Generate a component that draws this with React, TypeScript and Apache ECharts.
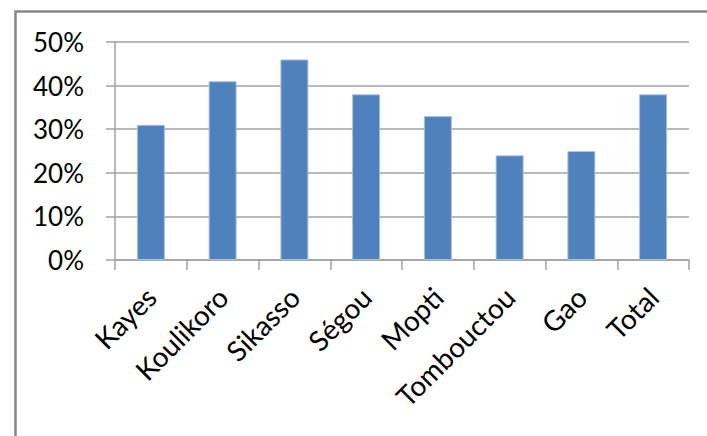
import React, { useEffect, useRef } from "react";
import * as echarts from "echarts";

// Regions of Mali and their share (in %)
const regions = ["Kayes", "Koulikoro", "Sikasso", "Ségou", "Mopti", "Tombouctou", "Gao", "Total"];
const shares = [31, 41, 46, 38, 33, 24, 25, 38];
const yTicks = [0, 10, 20, 30, 40, 50];

const FONT = "Lato, 'Liberation Sans', sans-serif";
const GRID_COLOR = "#a0a0a0";

export default function App() {
  const ref = useRef<HTMLDivElement>(null);

  useEffect(() => {
    if (!ref.current) return;
    const chart = echarts.init(ref.current, undefined, { renderer: "svg" });
    chart.setOption({
      animation: false,
      backgroundColor: "#ffffff",
      textStyle: { fontFamily: FONT },
      graphic: [
        {
          type: "rect",
          left: 13,
          top: 9,
          shape: { x: 0, y: 0, width: 760, height: 480 },
          style: { fill: "none", stroke: "#858585", lineWidth: 2.5 },
          silent: true,
        },
      ],
      grid: { left: 115, right: 18, top: 42, bottom: 176, containLabel: false },
      xAxis: {
        type: "category",
        data: regions,
        boundaryGap: true,
        axisLine: { show: true, lineStyle: { color: GRID_COLOR, width: 1.5 } },
        axisTick: { show: true, length: 10, alignWithLabel: false, lineStyle: { color: GRID_COLOR, width: 1.5 } },
        axisLabel: {
          rotate: 45,
          margin: 32,
          interval: 0,
          color: "#000000",
          fontSize: 28,
          fontFamily: FONT,
        },
      },
      yAxis: {
        type: "value",
        min: yTicks[0],
        max: yTicks[yTicks.length - 1],
        interval: yTicks[1] - yTicks[0],
        axisLine: { show: true, lineStyle: { color: GRID_COLOR, width: 1.5 } },
        axisTick: { show: true, length: 9, lineStyle: { color: GRID_COLOR, width: 1.5 } },
        splitLine: { show: true, lineStyle: { color: GRID_COLOR, width: 1.5 } },
        axisLabel: {
          formatter: (v: number) => `${v}%`,
          margin: 31,
          color: "#000000",
          fontSize: 26,
          fontFamily: FONT,
        },
      },
      series: [
        {
          type: "bar",
          data: shares,
          barWidth: 28,
          itemStyle: { color: "#4f81bd", borderColor: "#a9c0de", borderWidth: 1 },
        },
      ],
    });
    return () => chart.dispose();
  }, []);

  return (
    <div
      ref={ref}
      style={{ position: "fixed", left: 0, top: 0, width: 707, height: 436, background: "#fff" }}
    />
  );
}
